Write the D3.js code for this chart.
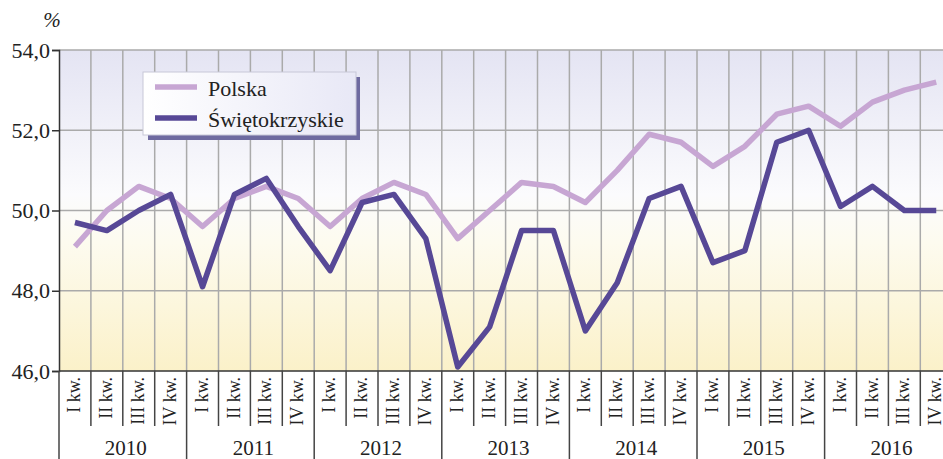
<!DOCTYPE html>
<html>
<head>
<meta charset="utf-8">
<script src="https://cdn.jsdelivr.net/npm/d3@7"></script>
<style>
  body { margin: 0; background: #fff; }
  svg { display: block; }
</style>
</head>
<body>
<script>
// DATA
var years = ["2010", "2011", "2012", "2013", "2014", "2015", "2016"];
var quarters = ["I kw.", "II kw.", "III kw.", "IV kw."];
var polska = [49.1, 50.0, 50.6, 50.3, 49.6, 50.3, 50.6, 50.3, 49.6, 50.3, 50.7, 50.4,
  49.3, 50.0, 50.7, 50.6, 50.2, 51.0, 51.9, 51.7, 51.1, 51.6, 52.4, 52.6, 52.1, 52.7, 53.0, 53.2];
var swietokrzyskie = [49.7, 49.5, 50.0, 50.4, 48.1, 50.4, 50.8, 49.6, 48.5, 50.2, 50.4, 49.3,
  46.1, 47.1, 49.5, 49.5, 47.0, 48.2, 50.3, 50.6, 48.7, 49.0, 51.7, 52.0, 50.1, 50.6, 50.0, 50.0];
var yTicks = [46, 48, 50, 52, 54];
var seriesNames = ["Polska", "Świętokrzyskie"];

var width = 943, height = 459;
var plotLeft = 59, plotTop = 50, plotBottom = 371, cell = 31.9;
var serif = "'Liberation Serif', 'Times New Roman', serif";

var idx = d3.range(polska.length);

var svg = d3.select("body").append("svg")
  .attr("width", width)
  .attr("height", height);

var x = d3.scaleBand()
  .domain(idx)
  .range([plotLeft, plotLeft + cell * idx.length]);

var y = d3.scaleLinear()
  .domain([46, 54])
  .range([plotBottom, plotTop]);

// background gradient
var defs = svg.append("defs");
var bg = defs.append("linearGradient")
  .attr("id", "bg")
  .attr("x1", 0).attr("y1", 0).attr("x2", 0).attr("y2", 1);
bg.append("stop").attr("offset", "0%").attr("stop-color", "#e4e4f3");
bg.append("stop").attr("offset", "45%").attr("stop-color", "#fbfbfd");
bg.append("stop").attr("offset", "60%").attr("stop-color", "#fdfbef");
bg.append("stop").attr("offset", "100%").attr("stop-color", "#fbf1c9");

var lg = defs.append("linearGradient")
  .attr("id", "lg")
  .attr("x1", 0).attr("y1", 0).attr("x2", 1).attr("y2", 0);
lg.append("stop").attr("offset", "0%").attr("stop-color", "#ffffff");
lg.append("stop").attr("offset", "100%").attr("stop-color", "#e8e8f6");

svg.append("rect")
  .attr("x", plotLeft)
  .attr("y", plotTop)
  .attr("width", width - plotLeft)
  .attr("height", plotBottom - plotTop)
  .attr("fill", "url(#bg)");

// grid
svg.append("g").selectAll("line")
  .data(yTicks.slice(1))
  .join("line")
  .attr("x1", plotLeft).attr("x2", width)
  .attr("y1", function(d) { return y(d); })
  .attr("y2", function(d) { return y(d); })
  .attr("stroke", "#aaaaaa")
  .attr("stroke-width", 1.5);

svg.append("g").selectAll("line")
  .data(idx.slice(1))
  .join("line")
  .attr("x1", function(d) { return x(d); })
  .attr("x2", function(d) { return x(d); })
  .attr("y1", plotTop).attr("y2", plotBottom)
  .attr("stroke", "#aaaaaa")
  .attr("stroke-width", 1.5);

// y axis
var yAxis = svg.append("g")
  .attr("transform", "translate(" + plotLeft + ",0)")
  .call(d3.axisLeft(y).tickValues(yTicks).tickSize(7).tickPadding(2)
    .tickFormat(function(d) { return d3.format(".1f")(d).replace(".", ","); }));
yAxis.select(".domain").attr("stroke", "#333").attr("stroke-width", 1.5);
yAxis.selectAll(".tick line").attr("stroke", "#333").attr("stroke-width", 1.5);
yAxis.selectAll("text")
  .style("font-family", serif)
  .style("font-size", "22px")
  .attr("fill", "#222");

svg.append("text")
  .attr("x", 52).attr("y", 27)
  .attr("text-anchor", "middle")
  .style("font-family", serif)
  .style("font-size", "21px")
  .style("font-style", "italic")
  .attr("fill", "#222")
  .text("%");

// x axis
svg.append("line")
  .attr("x1", plotLeft).attr("x2", width)
  .attr("y1", plotBottom).attr("y2", plotBottom)
  .attr("stroke", "#333").attr("stroke-width", 1.5);

svg.append("g").selectAll("line")
  .data(idx.slice(1).filter(function(d) { return d % 4 != 0; }))
  .join("line")
  .attr("x1", function(d) { return x(d); })
  .attr("x2", function(d) { return x(d); })
  .attr("y1", plotBottom).attr("y2", 426)
  .attr("stroke", "#444").attr("stroke-width", 1.5);

svg.append("g").selectAll("line")
  .data(idx.filter(function(d) { return d % 4 == 0; }))
  .join("line")
  .attr("x1", function(d) { return x(d); })
  .attr("x2", function(d) { return x(d); })
  .attr("y1", plotBottom).attr("y2", height)
  .attr("stroke", "#444").attr("stroke-width", 1.5);

svg.append("g").selectAll("text")
  .data(idx)
  .join("text")
  .attr("transform", function(d) {
    return "translate(" + (x(d) + x.bandwidth() / 2 + 1) + ",377) rotate(-90)";
  })
  .attr("text-anchor", "end")
  .attr("dominant-baseline", "middle")
  .style("font-family", serif)
  .style("font-size", "18px")
  .attr("fill", "#222")
  .text(function(d) { return quarters[d % 4]; });

svg.append("g").selectAll("text")
  .data(years)
  .join("text")
  .attr("x", function(d, i) { return x(i * 4) + cell * 2 + 3; })
  .attr("y", 455)
  .attr("text-anchor", "middle")
  .style("font-family", serif)
  .style("font-size", "21px")
  .attr("fill", "#222")
  .text(function(d) { return d; });

// lines
var line = function(vals) {
  return d3.line()
    .x(function(d, i) { return x(i) + x.bandwidth() / 2; })
    .y(function(d) { return y(d); })(vals);
};

svg.append("path")
  .attr("d", line(polska))
  .attr("fill", "none")
  .attr("stroke", "#c7a6d3")
  .attr("stroke-width", 5.5)
  .attr("stroke-linejoin", "round");

svg.append("path")
  .attr("d", line(swietokrzyskie))
  .attr("fill", "none")
  .attr("stroke", "#574896")
  .attr("stroke-width", 5.5)
  .attr("stroke-linejoin", "round");

// legend
svg.append("rect")
  .attr("x", 148).attr("y", 77)
  .attr("width", 212).attr("height", 63)
  .attr("fill", "#6e6aa0");
svg.append("rect")
  .attr("x", 143).attr("y", 72)
  .attr("width", 213).attr("height", 63)
  .attr("fill", "url(#lg)")
  .attr("stroke", "#c8c8d8")
  .attr("stroke-width", 1);

var legendColors = ["#c7a6d3", "#574896"];
var leg = svg.append("g").selectAll("g")
  .data(seriesNames)
  .join("g")
  .attr("transform", function(d, i) { return "translate(155," + (87 + i * 31) + ")"; });
leg.append("line")
  .attr("x1", 0).attr("x2", 42)
  .attr("stroke", function(d, i) { return legendColors[i]; })
  .attr("stroke-width", 5.5);
leg.append("text")
  .attr("x", 53).attr("y", 9)
  .style("font-family", serif)
  .style("font-size", "22px")
  .attr("fill", "#222")
  .text(function(d) { return d; });
</script>
</body>
</html>
